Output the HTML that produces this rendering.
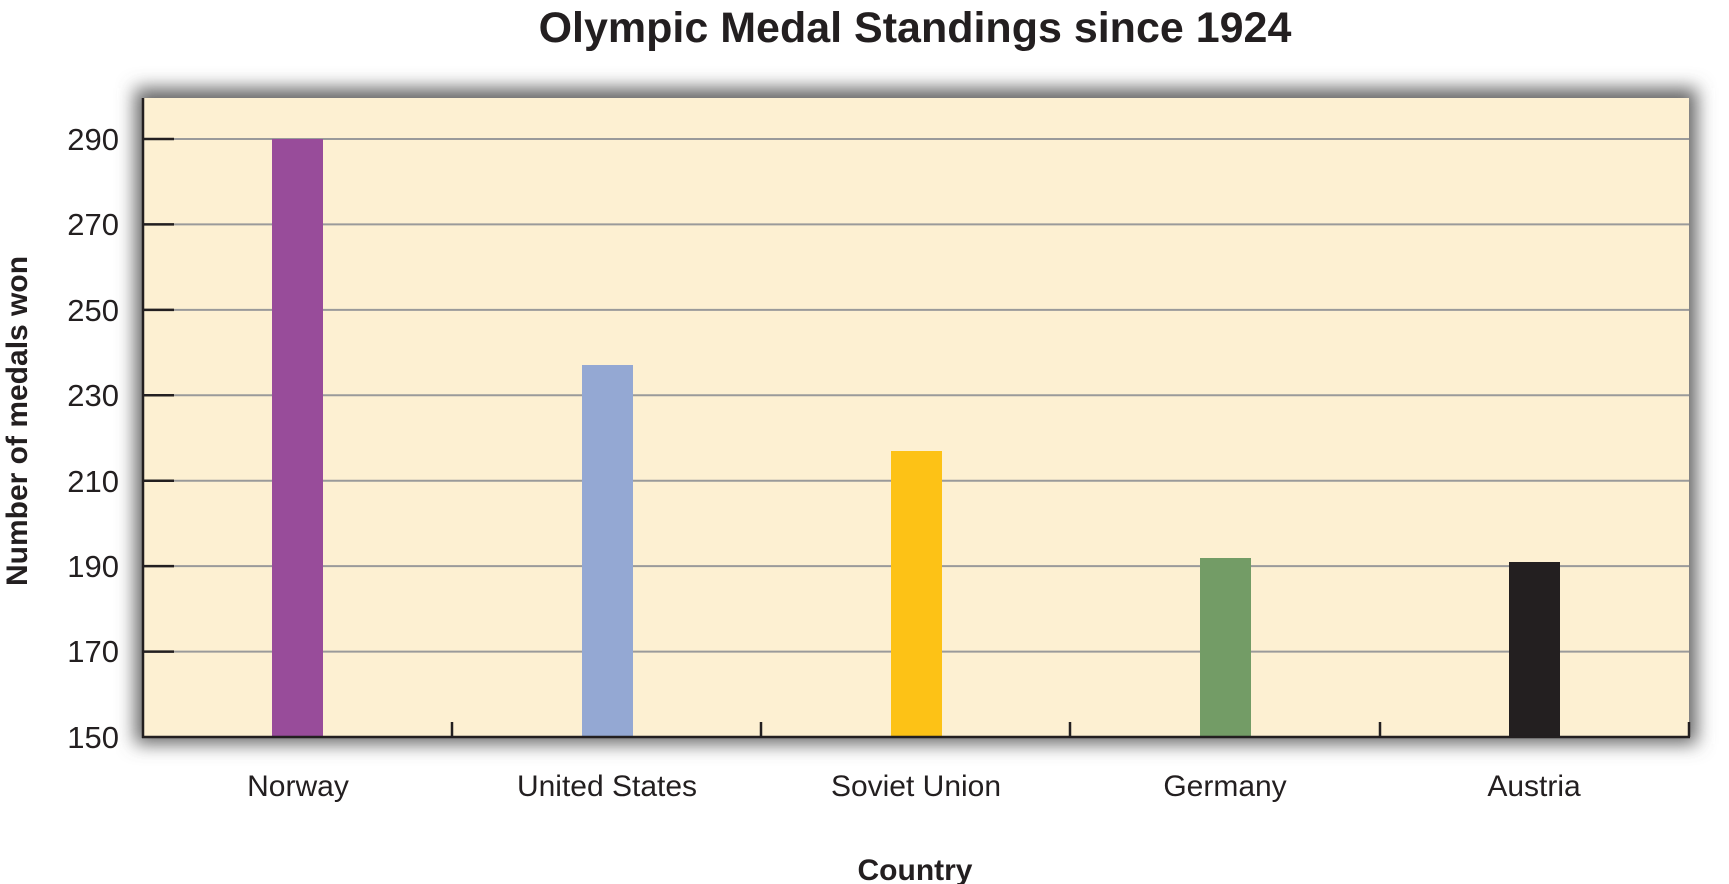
<!DOCTYPE html>
<html><head><meta charset="utf-8"><style>body{margin:0;background:#fff}svg{display:block}</style></head><body>
<svg width="1729" height="884" xmlns="http://www.w3.org/2000/svg" font-family="'Liberation Sans', sans-serif">
<defs><filter id="sh" x="-5%" y="-10%" width="110%" height="120%"><feGaussianBlur stdDeviation="9"/></filter></defs>
<rect x="135" y="88" width="1562" height="656" fill="#666" filter="url(#sh)"/>
<rect x="143" y="98" width="1546" height="639" fill="#fdf0d2"/>
<text x="915" y="42" text-anchor="middle" font-size="43" font-weight="bold" fill="#231f20">Olympic Medal Standings since 1924</text>
<g stroke="#9a9a9a" stroke-width="2">
<line x1="143" x2="1689" y1="139" y2="139"/><line x1="143" x2="1689" y1="224.4" y2="224.4"/>
<line x1="143" x2="1689" y1="309.9" y2="309.9"/><line x1="143" x2="1689" y1="395.3" y2="395.3"/>
<line x1="143" x2="1689" y1="480.7" y2="480.7"/><line x1="143" x2="1689" y1="566.1" y2="566.1"/>
<line x1="143" x2="1689" y1="651.6" y2="651.6"/>
</g>
<rect x="272" y="139" width="51" height="598" fill="#984c9a"/>
<rect x="582" y="365" width="51" height="372" fill="#94a8d3"/>
<rect x="891" y="451" width="51" height="286" fill="#fdc216"/>
<rect x="1200" y="558" width="51" height="179" fill="#739c66"/>
<rect x="1509" y="562" width="51" height="175" fill="#231f20"/>
<g stroke="#231f20" stroke-width="2.5">
<line x1="143" y1="98" x2="143" y2="738"/><line x1="142" y1="737" x2="1690" y2="737"/>
<line x1="143" x2="174" y1="139" y2="139"/><line x1="143" x2="174" y1="224.4" y2="224.4"/>
<line x1="143" x2="174" y1="309.9" y2="309.9"/><line x1="143" x2="174" y1="395.3" y2="395.3"/>
<line x1="143" x2="174" y1="480.7" y2="480.7"/><line x1="143" x2="174" y1="566.1" y2="566.1"/>
<line x1="143" x2="174" y1="651.6" y2="651.6"/>
<line x1="452" x2="452" y1="722" y2="737"/><line x1="761" x2="761" y1="722" y2="737"/>
<line x1="1070" x2="1070" y1="722" y2="737"/><line x1="1380" x2="1380" y1="722" y2="737"/>
<line x1="1689" x2="1689" y1="722" y2="737"/>
</g>
<g font-size="31" fill="#231f20" text-anchor="end">
<text x="119" y="150">290</text><text x="119" y="235">270</text><text x="119" y="321">250</text>
<text x="119" y="406">230</text><text x="119" y="492">210</text><text x="119" y="577">190</text>
<text x="119" y="662">170</text><text x="119" y="748">150</text>
</g>
<g font-size="30" fill="#231f20" text-anchor="middle">
<text x="298" y="796">Norway</text><text x="607" y="796">United States</text>
<text x="916" y="796">Soviet Union</text><text x="1225" y="796">Germany</text><text x="1534" y="796">Austria</text>
</g>
<text x="915" y="880" text-anchor="middle" font-size="30" font-weight="bold" fill="#231f20">Country</text>
<text transform="translate(27,421) rotate(-90)" text-anchor="middle" font-size="30" font-weight="bold" fill="#231f20">Number of medals won</text>
</svg>
</body></html>
